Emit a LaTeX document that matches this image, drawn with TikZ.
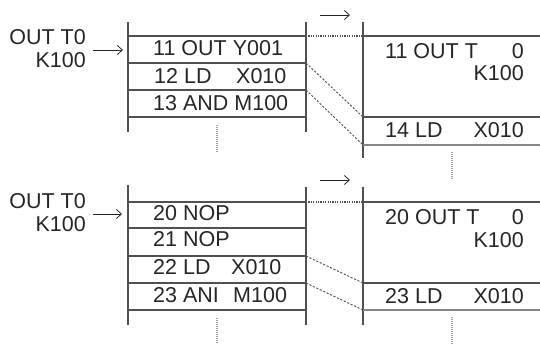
\documentclass[tikz,border=0pt]{standalone}
\usepackage{fontspec}
\setmainfont{Liberation Sans}
\usetikzlibrary{arrows.meta}
\definecolor{lc}{HTML}{505050}
\definecolor{dc}{HTML}{A8A8A8}
\tikzset{
  boxline/.style={draw=lc, line width=1.2pt},
  thinline/.style={draw=lc!70, line width=1.1pt},
  dotline/.style={draw=lc, line width=1.2pt, dash pattern=on 1.2pt off 1.2pt},
  diagline/.style={draw=lc, line width=0.9pt, dash pattern=on 2.2pt off 1.6pt},
  vdots/.style={draw=dc, line width=1.6pt, dash pattern=on 1pt off 1pt},
  arr/.style={draw=black!85, line width=0.8pt, -{Straight Barb[length=5pt,width=9pt]}},
  txt/.style={inner sep=0pt, font=\fontsize{21.5}{24}\selectfont, text=black!85},
}
\begin{document}
\begin{tikzpicture}[x=1pt,y=-1pt]
\useasboundingbox (0,0) rectangle (540,344);
% ---------------- TOP ----------------
\node[txt, anchor=base east] (lab1) at (86,45) {OUT T0};
\node[txt, anchor=base east] (lab1b) at (86,68) {K100};
\coordinate (a1s) at (93,50);
\coordinate (a1e) at (123,50);
\draw[arr] (a1s) -- (a1e);
\coordinate (t1s) at (320,15);
\coordinate (t1e) at (350,15);
\draw[arr] (t1s) -- (t1e);
% left box
\draw[boxline] (128,22) -- (128,132);
\draw[boxline] (306,22) -- (306,132);
\foreach \y in {36,63,90,117} \draw[boxline] (128,\y) -- (306,\y);
% right box
\draw[boxline] (363,22) -- (363,158);
\draw[boxline] (363,36) -- (540,36);
\draw[boxline] (363,117) -- (540,117);
\draw[thinline] (363,145) -- (540,145);
\draw[dotline] (306,36) -- (363,36);
\draw[diagline] (306,63) -- (363,117);
\draw[diagline] (306,90) -- (363,145);
\draw[vdots] (217,125) -- (217,152);
\draw[vdots] (452,152) -- (452,179);
% texts
\node[txt, anchor=base west] (r11) at (153,56) {11 OUT Y001};
\node[txt, anchor=base west] (r12) at (154,84) {12 LD};
\node[txt, anchor=base west] (r12b) at (236,84) {X010};
\node[txt, anchor=base west] (r13) at (153,111) {13 AND M100};
\node[txt, anchor=base west] (q11) at (385,59) {11 OUT T};
\node[txt, anchor=base east] (q11b) at (524,59) {0};
\node[txt, anchor=base east] (q11c) at (524,81) {K100};
\node[txt, anchor=base west] (q14) at (385,138) {14 LD};
\node[txt, anchor=base east] (q14b) at (524,138) {X010};
% ---------------- BOTTOM ----------------
\node[txt, anchor=base east] (lab2) at (86,209) {OUT T0};
\node[txt, anchor=base east] (lab2b) at (86,232) {K100};
\coordinate (a2s) at (93,214);
\coordinate (a2e) at (122,214);
\draw[arr] (a2s) -- (a2e);
\coordinate (t2s) at (320,180);
\coordinate (t2e) at (350,180);
\draw[arr] (t2s) -- (t2e);
\draw[boxline] (128,185) -- (128,325);
\draw[boxline] (306,187) -- (306,325);
\foreach \y in {202,228,256,283,310} \draw[boxline] (128,\y) -- (306,\y);
\draw[boxline] (363,187) -- (363,325);
\draw[boxline] (363,202) -- (540,202);
\draw[boxline] (363,283) -- (540,283);
\draw[thinline] (363,310) -- (540,310);
\draw[dotline] (306,202) -- (363,202);
\draw[diagline] (306,256) -- (363,283);
\draw[diagline] (306,283) -- (363,310);
\draw[vdots] (217,318) -- (217,344);
\draw[vdots] (452,317) -- (452,344);
\node[txt, anchor=base west] (r20) at (153,221) {20 NOP};
\node[txt, anchor=base west] (r21) at (153,247) {21 NOP};
\node[txt, anchor=base west] (r22) at (153,275) {22 LD};
\node[txt, anchor=base west] (r22b) at (231,275) {X010};
\node[txt, anchor=base west] (r23) at (153,302) {23 ANI};
\node[txt, anchor=base west] (r23b) at (233,302) {M100};
\node[txt, anchor=base west] (q20) at (385,225) {20 OUT T};
\node[txt, anchor=base east] (q20b) at (524,225) {0};
\node[txt, anchor=base east] (q20c) at (524,248) {K100};
\node[txt, anchor=base west] (q23) at (385,303) {23 LD};
\node[txt, anchor=base east] (q23b) at (524,303) {X010};
\end{tikzpicture}
\end{document}
